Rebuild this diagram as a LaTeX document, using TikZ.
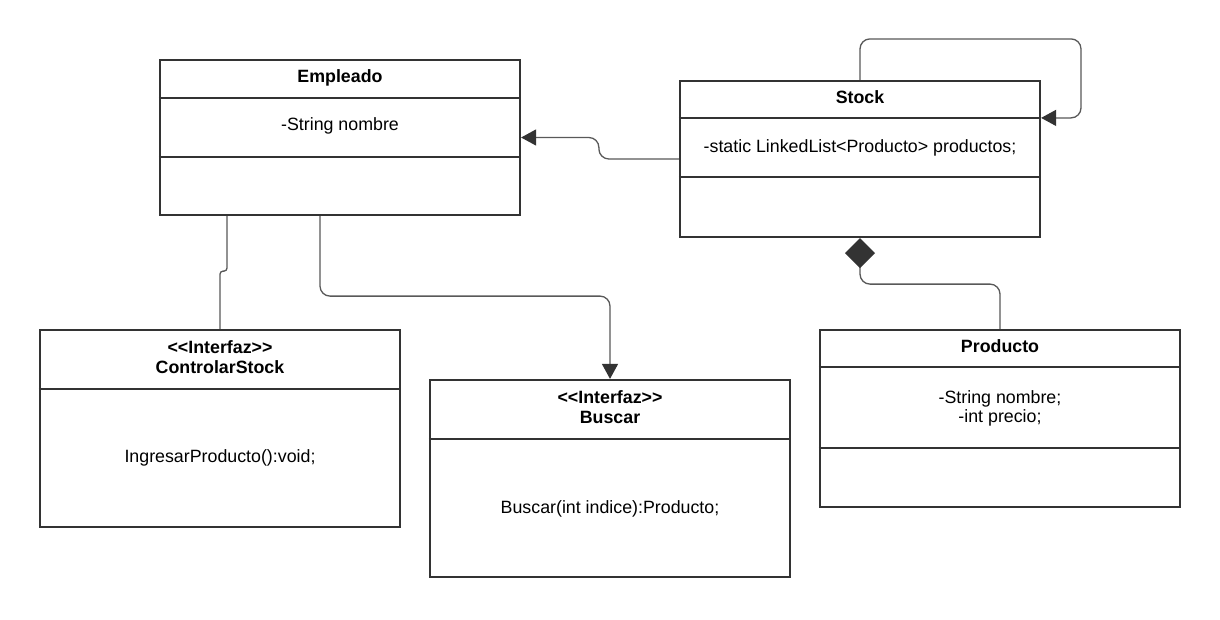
\documentclass[tikz,border=0pt]{standalone}
\usepackage{fontspec}
\setmainfont{Liberation Sans}
\usetikzlibrary{arrows.meta,calc}
\definecolor{boxline}{HTML}{333333}
\definecolor{connline}{HTML}{595959}
\begin{document}
\begin{tikzpicture}[x=1pt,y=-1pt,
  umlbox/.style={draw=boxline, line width=2.2pt, fill=white, inner sep=0pt, minimum width=360pt},
  divider/.style={draw=boxline, line width=2.2pt},
  txt/.style={font=\fontsize{17.8}{20.5}\selectfont, anchor=base, inner sep=0pt},
  ttl/.style={font=\fontsize{17.8}{20.5}\selectfont\bfseries, anchor=base, inner sep=0pt},
  conn/.style={draw=connline, line width=1.3pt, rounded corners=10pt},
  blocktip/.style={-{Triangle[length=15pt,width=16pt,color=boxline]}},
  diamtip/.style={{Diamond[length=30pt,width=30pt,color=boxline]}-}
]
\fill[white] (0,0) rectangle (1220,619);
\useasboundingbox (0,0) rectangle (1220,619);

% Empleado
\node[umlbox, minimum height=155pt] (emp) at (340,137.5) {};
\draw[divider] (emp.west |- 0,98) -- (emp.east |- 0,98);
\draw[divider] (emp.west |- 0,157) -- (emp.east |- 0,157);
\node[ttl] (empT) at (340,82) {Empleado};
\node[txt] (empA) at (340,130) {-String nombre};

% Stock
\node[umlbox, minimum height=156pt] (stock) at (860,159) {};
\draw[divider] (stock.west |- 0,118) -- (stock.east |- 0,118);
\draw[divider] (stock.west |- 0,177) -- (stock.east |- 0,177);
\node[ttl] (stockT) at (860,103.3) {Stock};
\node[txt] (stockA) at (860,152.7) {-static LinkedList<Producto> productos;};

% ControlarStock
\node[umlbox, minimum height=197pt] (cs) at (220,428.5) {};
\draw[divider] (cs.west |- 0,389) -- (cs.east |- 0,389);
\node[ttl] (csS) at (220,353.3) {<\kern0pt<Interfaz>\kern0pt>};
\node[ttl] (csT) at (220,373.3) {ControlarStock};
\node[txt] (csM) at (220,462) {IngresarProducto():void;};

% Buscar
\node[umlbox, minimum height=197pt] (buscar) at (610,478.5) {};
\draw[divider] (buscar.west |- 0,439) -- (buscar.east |- 0,439);
\node[ttl] (bS) at (610,403.3) {<\kern0pt<Interfaz>\kern0pt>};
\node[ttl] (bT) at (610,423.3) {Buscar};
\node[txt] (bM) at (610,513) {Buscar(int indice):Producto;};

% Producto
\node[umlbox, minimum height=177pt] (prod) at (1000,418.5) {};
\draw[divider] (prod.west |- 0,367) -- (prod.east |- 0,367);
\draw[divider] (prod.west |- 0,448) -- (prod.east |- 0,448);
\node[ttl] (pT) at (1000,352.3) {Producto};
\node[txt] (pA1) at (1000,403.3) {-String nombre;};
\node[txt] (pA2) at (1000,422.7) {-int precio;};

% connectors
\draw[conn, blocktip] (stock.west) -- ++(-80,0) |- (emp.east);
\draw[conn, blocktip] (stock.north) -- ++(0,-41) -- ++(221,0) |- ([yshift=-38pt]stock.north east);
\draw[conn, rounded corners=3pt] ([xshift=-113pt]emp.south) -- ++(0,55) -| (cs.north);
\draw[conn, blocktip] ([xshift=-20pt]emp.south) -- ++(0,80) -| (buscar.north);
\draw[conn, diamtip] (stock.south) -- ++(0,46) -| (prod.north);
\end{tikzpicture}
\end{document}
